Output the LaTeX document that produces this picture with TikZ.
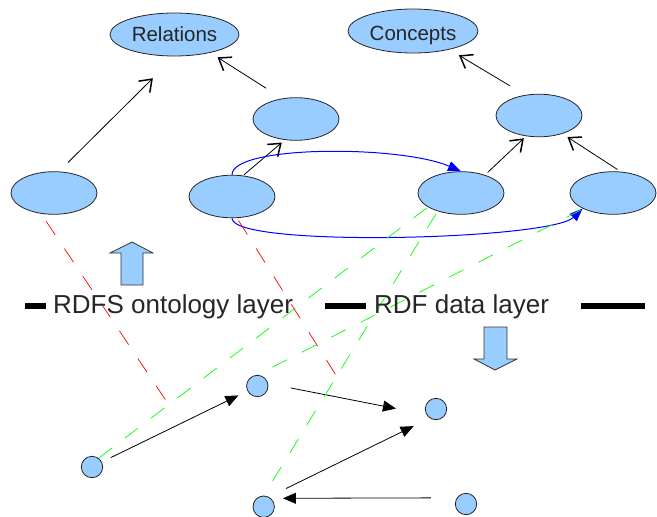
\documentclass[tikz,border=0pt]{standalone}
\usepackage{fontspec}
\setmainfont{Liberation Sans}
\usepackage{tikz}
\usetikzlibrary{calc, arrows.meta, positioning, shapes.geometric}

\tikzset{
    cls/.style={ellipse, draw=black!85, line width=0.8pt, fill=skyblue, minimum width=86pt, minimum height=42.6pt, inner sep=0pt},
    res/.style={circle, draw=black!85, line width=0.8pt, fill=skyblue, minimum size=21.4pt, inner sep=0pt},
    sub/.style={draw=black, line width=0.8pt, -{Straight Barb[length=11pt,width=16pt,line width=1.5pt]}},
    triple/.style={draw=black, line width=0.8pt, -{Triangle[length=13pt,width=11pt]}},
    dom/.style={draw=blue, line width=1pt, -{Triangle[length=13pt,width=10pt]}},
    proplink/.style={draw=red, line width=0.7pt, dash pattern=on 16.5pt off 16.5pt},
    instlink/.style={draw=green, line width=0.7pt, dash pattern=on 16.5pt off 16.5pt},
    bigarrow/.style={draw=black!80, line width=0.8pt, fill=skyblue},
    layer/.style={text=black!85, font=\fontsize{26}{30}\selectfont, inner sep=0pt, anchor=base west},
    top/.style={font=\fontsize{20.5}{24}\selectfont, text=black!85, text depth=0pt}
}

\begin{document}
\begin{tikzpicture}[x=1pt, y=-1pt]
        \definecolor{skyblue}{RGB}{153, 204, 255}
        \useasboundingbox (0,0) rectangle (657,517);

        % ontology layer
        \node[cls, top, minimum width=129pt, minimum height=43pt, text height=13pt] (rel) at (174.5,34.5) {Relations};
        \node[cls, top, minimum width=130pt, minimum height=44pt, text height=19pt] (con) at (413,31) {Concepts};
        \node[cls] (p1) at (54,193) {};
        \node[cls] (p2) at (296,119) {};
        \node[cls] (p3) at (232,196.5) {};
        \node[cls] (c1) at (539,115.5) {};
        \node[cls] (c2) at (461,193) {};
        \node[cls] (c3) at (613,193) {};

        \draw[sub, shorten <=12.7pt, shorten >=31pt] (p1.77) -- (rel.-89);
        \draw[sub, shorten <=19pt, shorten >=8.5pt] (p2.124) -- (rel.-27);
        \draw[sub, shorten <=1pt, shorten >=4pt] (p3.62) -- (p2.-118);
        \draw[sub, shorten <=17.7pt, shorten >=11pt] (c1.124) -- (con.-27);
        \draw[sub, shorten <=3.5pt, shorten >=3pt] (c2.37) -- (c1.-122);
        \draw[sub, shorten <=4pt, shorten >=6pt] (c3.70) -- (c1.-38);

        \draw[dom] (p3.north) .. controls (232,145) and (400,145) .. (c2.north);
        \draw[dom] (p3.south) .. controls (232,248) and (550,240) .. (c3.207);

        % data layer
        \node[res] (r1) at (92,467) {};
        \node[res] (r2) at (257.3,386) {};
        \node[res] (r3) at (436,409) {};
        \node[res] (r4) at (263.7,506.7) {};
        \node[res] (r5) at (466,504) {};

        \draw[triple, shorten <=10pt, shorten >=10pt] (r1.27) -- (r2.207);
        \draw[triple, shorten <=23pt, shorten >=31pt] (r2.13) -- (r3.-150);
        \draw[triple, shorten <=19pt, shorten >=18pt] (r4.62) -- (r3.-124);
        \draw[triple, shorten <=26pt, shorten >=12pt] (r5.146) -- (r4.49);

        % links between the layers
        \coordinate (m1) at (169,405);
        \coordinate (m2) at (339,380);
        \draw[proplink, dash phase=24pt] (p1.238) -- (m1);
        \draw[proplink, dash phase=30pt] (p3.283) -- (m2);
        \draw[instlink] (r1.53) -- (c2.203);
        \draw[instlink, dash phase=16pt] (r2.north) -- (c3.208);
        \draw[instlink, dash phase=16pt] (r4.north) -- (c2.218);

        \filldraw[bigarrow] (121,285) -- (121,253) -- (110,253) -- (132,242) -- (153,253) -- (143,253) -- (143,285) -- cycle;
        \filldraw[bigarrow] (484,327) -- (507,327) -- (507,359) -- (517,359) -- (495,370) -- (474,359) -- (484,359) -- cycle;

        \draw[line width=6pt] (25,306) -- (46,306);
        \draw[line width=6pt] (325,306) -- (366,306);
        \draw[line width=6pt] (581,306) -- (645,306);
        \node[layer] (onto) at (53,313) {RDFS ontology layer};
        \node[layer] (data) at (374,313) {RDF data layer};
    \end{tikzpicture}
\end{document}
